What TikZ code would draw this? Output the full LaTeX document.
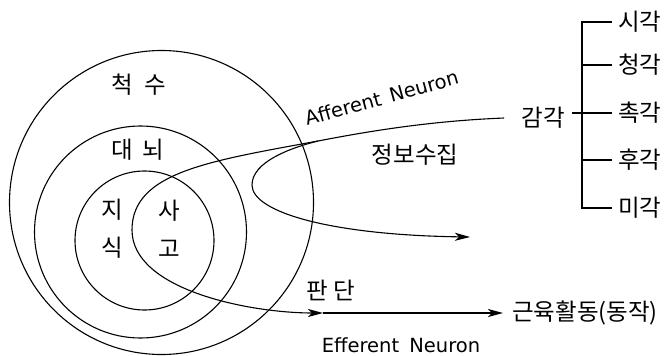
\documentclass[tikz,border=0pt]{standalone}
\usepackage{fontspec}
\setmainfont{DejaVu Sans}
\newfontfamily\krfont{Noto Sans CJK KR}
\usetikzlibrary{arrows.meta}
\begin{document}
\begin{tikzpicture}[x=1pt,y=-1pt,
  ring/.style={draw, circle, inner sep=0pt, line width=1.1pt},
  kt/.style={font=\krfont\fontsize{23.5}{28}\selectfont, inner sep=0pt},
  kttwo/.style={font=\krfont\fontsize{23.5}{38}\selectfont, inner sep=0pt, align=center},
  et/.style={font=\fontsize{19.5}{22}\selectfont, inner sep=0pt},
  lab/.style={kt, anchor=west, inner xsep=6pt, inner ysep=0pt},
  nerve/.style={line width=1.1pt},
  tip/.style={-{Stealth[length=15pt,width=8pt,inset=4pt]}},
  brk/.style={line width=1.1pt}]
\useasboundingbox (0,0) rectangle (670,356);

% circles
\node[ring, minimum size=304pt] (spine) at (161.5,202.5) {};
\node[ring, minimum size=212pt] (cerebrum) at (140.5,232) {};
\node[ring, minimum size=139pt] (core) at (144.5,240.5) {};

% circle labels
\node[kt] (tspine) at (139,85) {척\hspace{11pt}수};
\node[kt] (tcere) at (138,150) {대\hspace{9pt}뇌};
\node[kttwo] (tknow) at (112.5,229) {지\\식};
\node[kttwo] (tthink) at (169,229) {사\\고};
\node[kt] (tjudge) at (331,290) {판\hspace{6pt}단};
\node[kt] (tinfo) at (415,155) {정보수집};
\node[et] (teff) at (401,345) {Efferent\hspace{4pt} Neuron};
\node[et, rotate=15.5, anchor=base west] (taff) at (307,126) {Afferent\hspace{3pt} Neuron};

% senses
\node[kt, inner xsep=7pt] (sense) at (543,118) {감각};
\node[lab] (sight) at (612,22) {시각};
\node[lab] (hear) at (612,65) {청각};
\node[lab] (touch) at (612,113) {촉각};
\node[lab] (smell) at (612,160) {후각};
\node[lab] (taste) at (612,208) {미각};
\coordinate (bar) at (582,113);
\draw[brk] (sight.west) -| (bar) |- (taste.west);
\draw[brk] (hear.west) -- (hear.west -| bar);
\draw[brk] (smell.west) -- (smell.west -| bar);
\draw[brk] (touch.west) -- (touch.west -| sense.east);

% muscle
\node[kt, anchor=west, inner xsep=9pt] (muscle) at (503,313) {근육활동(동작)};

% nerve paths
\coordinate (J) at (318,141);
\coordinate (M) at (323,313);
\coordinate (L) at (470,237);
\draw[nerve, tip] ([xshift=-10pt]sense.west) .. controls (430,121) and (370,131) .. (J)
  .. controls (210,161) and (132,172) .. (132,230)
  .. controls (132,290) and (250,313) .. (M);
\draw[nerve, tip] (M) -- (muscle.west);
\draw[nerve, tip] (J) .. controls (290,148) and (252,162) .. (252,185)
  .. controls (252,212) and (330,235) .. (L);
\end{tikzpicture}
\end{document}
